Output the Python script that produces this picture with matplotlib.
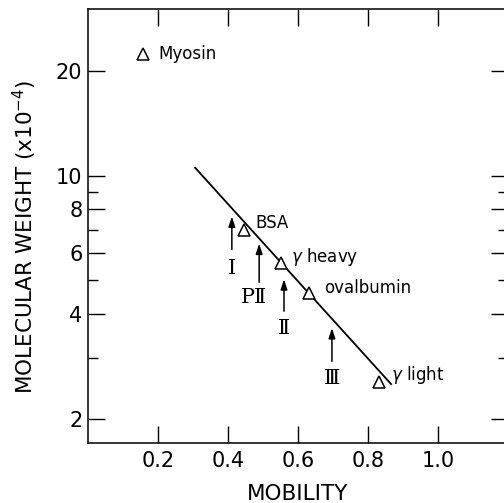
import matplotlib
matplotlib.use("Agg")
import matplotlib.pyplot as plt
from matplotlib.ticker import FixedLocator, NullFormatter, FixedFormatter

plt.rcParams['font.family'] = ['DejaVu Sans']

# Marker proteins (mobility, molecular weight x10^-4)
proteins = ["Myosin", "BSA", r"$\gamma$ heavy", "ovalbumin", r"$\gamma$ light"]
prot_mobility = [0.157, 0.446, 0.551, 0.631, 0.831]
prot_mw = [22.4, 6.96, 5.6, 4.59, 2.55]

# Fitted line endpoints
line_mobility = [0.306, 0.866]
line_mw = [10.54, 2.52]

# Unknown bands (arrows)
bands = ["Ⅰ", "PⅡ", "Ⅱ", "Ⅲ"]
band_mobility = [0.411, 0.489, 0.560, 0.697]
band_tip = [7.63, 6.38, 5.04, 3.65]
band_tail = [6.14, 4.94, 4.08, 2.93]
band_label_y = [5.41, 4.47, 3.65, 2.62]

xticks = [0.2, 0.4, 0.6, 0.8, 1.0]
xticklabels = ["0.2", "0.4", "0.6", "0.8", "1.0"]
yticks = [2, 4, 6, 8, 10, 20]
yticklabels = ["2", "4", "6", "8", "10", "20"]
yminor = [3, 5, 7, 9]

fig = plt.figure(figsize=(5.04, 5.03), dpi=100)
ax = fig.add_axes([88/504, 60/503, 420/504, 434/503])
ax.set_yscale('log')
ax.set_xlim(0, 1.2)
ax.set_ylim(1.707, 30.1)

lw = 1.1
for s in ax.spines.values():
    s.set_linewidth(lw)

ax.plot(line_mobility, line_mw, color='black', lw=1.3)
ax.plot(prot_mobility, prot_mw, linestyle='none', marker='^', markersize=9,
        markerfacecolor='white', markeredgecolor='black', markeredgewidth=1.1)

# protein labels
fs = 12
ax.text(prot_mobility[0] + 0.045, prot_mw[0], "Myosin", fontsize=fs, va='center', ha='left')
ax.text(prot_mobility[1] + 0.031, prot_mw[1] * 1.05, "BSA", fontsize=fs, va='center', ha='left')
ax.text(prot_mobility[2] + 0.03, prot_mw[2] * 1.04, r"$\gamma$ heavy", fontsize=fs, va='center', ha='left')
ax.text(prot_mobility[3] + 0.045, prot_mw[3] * 1.035, "ovalbumin", fontsize=fs, va='center', ha='left')
ax.text(prot_mobility[4] + 0.035, prot_mw[4] * 1.05, r"$\gamma$ light", fontsize=fs, va='center', ha='left')

for name, x, tip, tail, ly in zip(bands, band_mobility, band_tip, band_tail, band_label_y):
    ax.annotate("", xy=(x, tip), xytext=(x, tail),
                arrowprops=dict(arrowstyle='-|>,head_length=0.6,head_width=0.2',
                                color='black', lw=1.1, shrinkA=0, shrinkB=0))
    dx = -0.015 if name == "PⅡ" else 0
    ax.text(x + dx, ly, name, fontsize=15, ha='center', va='center',
            family=['DejaVu Serif', 'DejaVu Sans'])

ax.xaxis.set_major_locator(FixedLocator(xticks))
ax.xaxis.set_major_formatter(FixedFormatter(xticklabels))
ax.xaxis.set_minor_locator(FixedLocator([]))
ax.yaxis.set_major_locator(FixedLocator(yticks))
ax.yaxis.set_major_formatter(FixedFormatter(yticklabels))
ax.yaxis.set_minor_locator(FixedLocator(yminor))
ax.yaxis.set_minor_formatter(NullFormatter())

ax.tick_params(axis='both', which='major', direction='in', length=12.5, width=1.0,
               labelsize=15, top=True, right=True)
ax.tick_params(axis='y', which='minor', direction='in', length=7.5, width=1.0,
               right=True)
ax.tick_params(axis='x', which='major', pad=6)
ax.tick_params(axis='y', which='major', pad=4)

ax.set_xlabel("MOBILITY", fontsize=15.5, labelpad=9)
ax.set_ylabel(r"MOLECULAR WEIGHT (x10$^{-4}$)", fontsize=15.5)
ax.yaxis.set_label_coords(-0.117, 0.475)

fig.savefig("out.png", dpi=100)
